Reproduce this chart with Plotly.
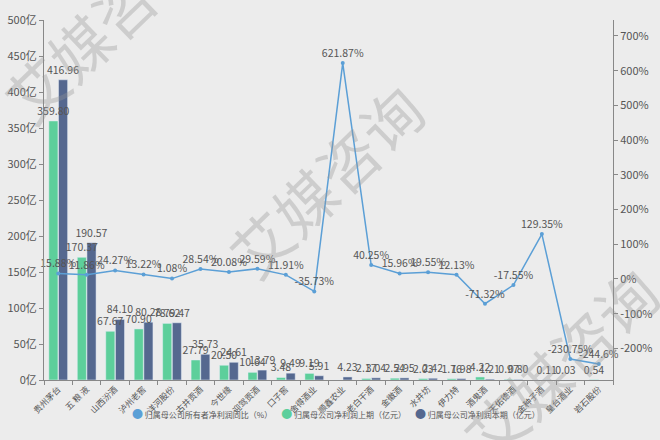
import plotly.graph_objects as go

categories = ["贵州茅台", "五 粮 液", "山西汾酒", "泸州老窖", "洋河股份", "古井贡酒", "今世缘", "迎驾贡酒",
              "口子窖", "舍得酒业", "顺鑫农业", "老白干酒", "金徽酒", "水井坊", "伊力特", "酒鬼酒",
              "天佑德酒", "金种子酒", "皇台酒业", "岩石股份"]
prev_profit = [359.80, 170.37, 67.67, 70.90, 78.62, 27.79, 20.50, 10.64, 3.48, 9.19,
               -0.81, 2.17, 2.54, 2.03, 1.76, 4.22, 0.97, -0.38, 0.03, 0.54]
curr_profit = [416.96, 190.57, 84.10, 80.28, 79.47, 35.73, 24.61, 13.79, 9.49, 5.91,
               4.23, 3.04, 2.95, 2.42, 1.98, 1.21, 0.80, 0.11, -0.04, -0.77]
yoy_pct = [15.88, 11.86, 24.27, 13.22, 1.08, 28.54, 20.08, 29.59, 11.91, -35.73,
           621.87, 40.25, 15.96, 19.55, 12.13, -71.32, -17.55, 129.35, -230.75, -244.6]
yoy_labels = ["15.88%", "11.86%", "24.27%", "13.22%", "1.08%", "28.54%", "20.08%", "29.59%", "11.91%", "-35.73%",
              "621.87%", "40.25%", "15.96%", "19.55%", "12.13%", "-71.32%", "-17.55%", "129.35%", "-230.75%", "-244.6%"]
left_ticks = [0, 50, 100, 150, 200, 250, 300, 350, 400, 450, 500]
right_ticks = [-200, -100, 0, 100, 200, 300, 400, 500, 600, 700]

name_line = "归属母公司所有者净利润同比（%）"
name_prev = "归属母公司净利润上期（亿元）"
name_curr = "归属母公司净利润本期（亿元）"

c_line = "#5b9fd6"
c_prev = "#5dcf9b"
c_curr = "#55688f"
font = "Noto Sans CJK SC"
txt = "#555555"

fig = go.Figure()
# dark (current) drawn first so the green labels sit on top of it
fig.add_trace(go.Bar(x=categories, y=curr_profit, name=name_curr, marker_color=c_curr,
                     offset=0.01, width=0.32,
                     text=[f"{v:.2f}" for v in curr_profit], textposition="outside",
                     constraintext="none", textangle=0,
                     textfont=dict(size=10.5, color=txt), cliponaxis=False, showlegend=False))
fig.add_trace(go.Bar(x=categories, y=prev_profit, name=name_prev, marker_color=c_prev,
                     offset=-0.33, width=0.32,
                     text=[f"{v:.2f}" for v in prev_profit], textposition="outside",
                     constraintext="none", textangle=0,
                     textfont=dict(size=10.5, color=txt), cliponaxis=False, showlegend=False))
fig.add_trace(go.Scatter(x=categories, y=yoy_pct, name=name_line, yaxis="y2", mode="lines+markers+text",
                         line=dict(color=c_line, width=1.5), marker=dict(size=4, color=c_line),
                         text=yoy_labels, textposition="top center",
                         textfont=dict(size=10.5, color=txt), cliponaxis=False, showlegend=False))

# compact legend row
def item(col, nm):
    return f"<span style='color:{col};font-size:11px'>●</span> {nm}"
legend_text = "     ".join([item(c_line, name_line), item(c_prev, name_prev), item(c_curr, name_curr)])
fig.add_annotation(text=legend_text, x=0.513, y=-0.092, xref="paper", yref="paper", showarrow=False,
                   xanchor="center", yanchor="middle", font=dict(size=8, color=txt, family=font))

# watermarks
wm_color = "rgba(150,150,150,0.35)"
for (x, y) in [(0.098, 0.986), (0.494, 0.556), (0.905, 0.05)]:
    fig.add_annotation(text="艾媒咨询", x=x, y=y, xref="paper", yref="paper", showarrow=False,
                       xanchor="center", yanchor="middle",
                       textangle=-44, font=dict(size=60, color=wm_color, family=font))

fig.update_layout(
    width=660, height=440,
    margin=dict(l=44, r=47, t=20, b=60, autoexpand=False),
    paper_bgcolor="#ececec", plot_bgcolor="#ececec",
    font=dict(family=font, size=11, color=txt),
    barmode="overlay", showlegend=False,
    xaxis=dict(range=[-0.5, len(categories) - 0.5], showline=True, linecolor="#888888",
               ticks="outside", tickson="boundaries",
               ticklen=4, tickcolor="#888888", tickangle=-45, tickfont=dict(size=8.5, color=txt),
               showgrid=False, automargin=False),
    yaxis=dict(range=[0, 500], tickvals=left_ticks, ticktext=[f"{v}亿" for v in left_ticks],
               showline=True, linecolor="#888888", ticks="outside", ticklen=4, tickcolor="#888888",
               showgrid=False, zeroline=False, tickfont=dict(size=11, color=txt), automargin=False),
    yaxis2=dict(range=[-291, 746], tickvals=right_ticks, ticktext=[f"{v}%" for v in right_ticks],
                overlaying="y", side="right", showline=True, linecolor="#888888", ticks="outside",
                ticklen=4, tickcolor="#888888", showgrid=False, zeroline=False,
                tickfont=dict(size=11, color=txt), automargin=False),
)

fig.write_html("out.html")
